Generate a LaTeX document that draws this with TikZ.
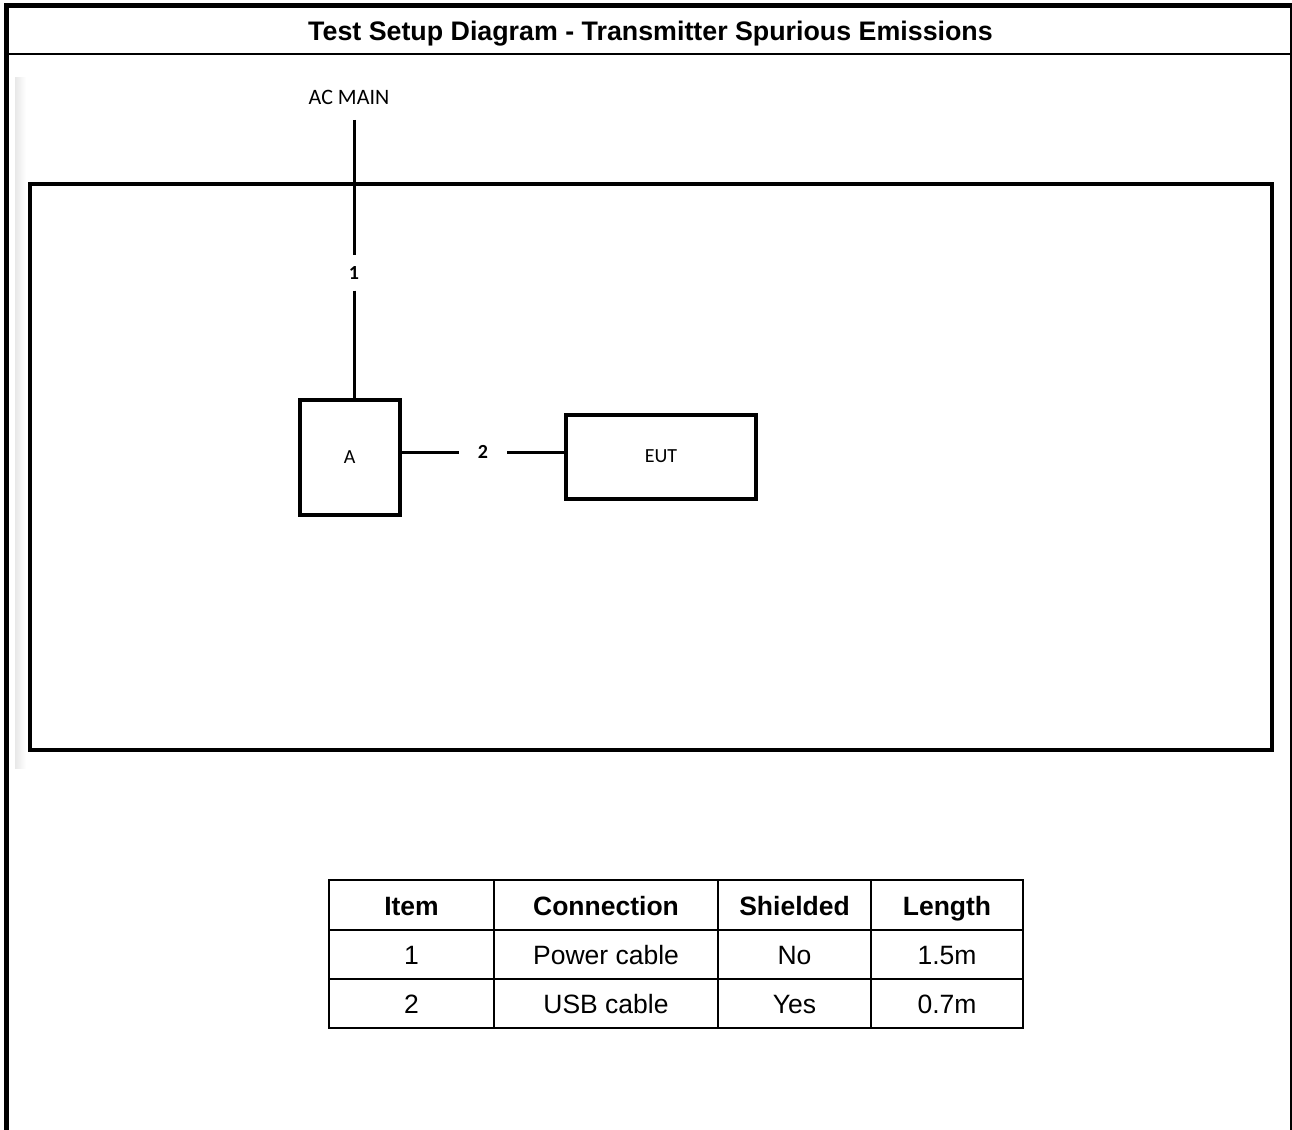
\documentclass[tikz,border=0pt]{standalone}
\usepackage{fontspec}
\setmainfont{Liberation Sans}
\newfontfamily\carlito{Carlito}
\usetikzlibrary{positioning}

\begin{document}
\begin{tikzpicture}[x=1pt, y=-1pt,
		box/.style={draw, line width=4pt, inner sep=0pt, font=\carlito\fontsize{20}{24}\selectfont},
		cablenum/.style={inner sep=0pt, font=\carlito\bfseries\fontsize{20}{24}\selectfont},
		cable/.style={line width=3pt},
		head/.style={anchor=base, font=\bfseries\fontsize{26.5}{30}\selectfont},
		cell/.style={anchor=base, font=\fontsize{26.5}{30}\selectfont}]
			%%%%% START %%%%%
			
			\useasboundingbox (0,0) rectangle (1292,1129);
			\fill[white] (0,0) rectangle (1292,1129);
			
			% frame and title
			\draw[line width=5pt] (6,1135) -- (6,6) -- (1292.5,6) -- (1292.5,1135);
			\draw[line width=2.5pt] (6,54) -- (1292,54);
			\node[anchor=base, font=\bfseries\fontsize{26.8}{30}\selectfont] (title) at (650.5,40.7) {Test Setup Diagram - Transmitter Spurious Emissions};
			
			% setup picture
			\shade[left color=gray!18, right color=white] (15,78) rectangle (26,768);
			\draw[line width=4pt] (30,183.7) rectangle (1272.3,750);
			
			\node[font=\carlito\fontsize{22}{26}\selectfont] (acmain) at (349,97) {AC MAIN};
			\coordinate (acin) at (354,120);
			\node[cablenum, minimum height=35pt] (lab1) at (354,273) {1};
			\node[box, minimum width=100pt, minimum height=115pt] (A) at (349.7,457) {A};
			\node[cablenum, minimum width=48pt] (lab2) at (483,452) {2};
			\node[box, minimum width=190pt, minimum height=84pt] (EUT) at (661,456.5) {EUT};
			
			\draw[cable] (acin) -- (lab1);
			\draw[cable] (lab1) -- (lab1 |- A.north);
			\draw[cable] (A.east |- lab2) -- (lab2);
			\draw[cable] (lab2) -- (EUT.west |- lab2);
			
			% cable table
			\draw[line width=1.5pt] (329,880) rectangle (1023,1028);
			\foreach \y in {930,979} \draw[line width=1.5pt] (329,\y) -- (1023,\y);
			\foreach \x in {494,718,871} \draw[line width=1.5pt] (\x,880) -- (\x,1028);
			
			\node[head] (hitem) at (411.5,915.5) {Item};
			\node[head] (hconn) at (606,915.5) {Connection};
			\node[head] (hshld) at (794.5,915.5) {Shielded};
			\node[head] (hlen) at (947,915.5) {Length};
			
			\node[cell] (item1) at (411.5,964.5) {1};
			\node[cell] (conn1) at (606,964.5) {Power cable};
			\node[cell] (shld1) at (794.5,964.5) {No};
			\node[cell] (len1) at (947,964.5) {1.5m};
			
			\node[cell] (item2) at (411.5,1013.5) {2};
			\node[cell] (conn2) at (606,1013.5) {USB cable};
			\node[cell] (shld2) at (794.5,1013.5) {Yes};
			\node[cell] (len2) at (947,1013.5) {0.7m};
			
			%%%%% END %%%%%
\end{tikzpicture}
\end{document}
